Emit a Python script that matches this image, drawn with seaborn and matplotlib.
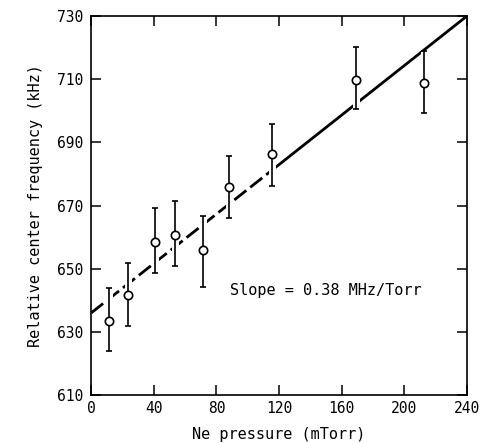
#!/usr/bin/env python3
"""Relative center frequency vs Ne pressure, with linear fit."""

import matplotlib
matplotlib.use("Agg")
import matplotlib.patheffects as pe
import matplotlib.pyplot as plt
import pandas as pd
import seaborn as sns

pressure = [11.3, 23.4, 40.9, 53.7, 71.3, 87.9, 115.8, 169.3, 212.5]
frequency = [633.6, 641.7, 658.5, 660.7, 655.8, 676.0, 686.4, 709.6, 708.7]
err_up = [10.4, 10.0, 10.7, 10.8, 11.0, 9.6, 9.4, 10.5, 10.1]
err_down = [9.7, 9.9, 10.0, 9.9, 11.6, 9.9, 10.1, 9.1, 9.3]

# fitted line, drawn dashed at low pressure and solid above ~116 mTorr
fit_x = [0, 116, 116, 240]
fit_y = [636.0, 681.4, 681.4, 730.0]
fit_seg = ["dashed", "dashed", "solid", "solid"]

x_ticks = [0, 40, 80, 120, 160, 200, 240]
y_ticks = [610, 630, 650, 670, 690, 710, 730]


def main() -> None:
    sns.set_style("ticks")
    plt.rcParams["font.family"] = ["DejaVu Sans Mono", "DejaVu Sans"]
    plt.rcParams["text.color"] = "black"
    plt.rcParams["axes.labelcolor"] = "black"

    df = pd.DataFrame({"p": pressure, "f": frequency})
    fit = pd.DataFrame({"p": fit_x, "f": fit_y, "seg": fit_seg})

    fig = plt.figure(figsize=(4.82, 4.43), dpi=100)
    ax = fig.add_axes([0.189, 0.108, 0.780, 0.856])

    sns.lineplot(data=fit, x="p", y="f", style="seg", color="black", lw=2.0,
                 dashes={"dashed": (5.5, 1.8), "solid": ""}, sort=False,
                 legend=False, ax=ax, zorder=2)
    eb = ax.errorbar(pressure, frequency, yerr=[err_down, err_up], fmt="none",
                     ecolor="black", elinewidth=1.2, capsize=2.5,
                     capthick=1.2, zorder=3)
    # white halo so the fit line breaks where it crosses a bar
    eb[2][0].set_path_effects([pe.Stroke(linewidth=5, foreground="white"),
                               pe.Normal()])
    sns.scatterplot(data=df, x="p", y="f", marker="o", s=36,
                    facecolor="white", edgecolor="black", linewidth=1.2,
                    ax=ax, zorder=4)

    ax.set_xlim(0, 240)
    ax.set_ylim(610, 730)
    ax.set_xticks(x_ticks)
    ax.set_yticks(y_ticks)
    ax.tick_params(direction="in", length=7.5, width=1.1, top=True,
                   right=True, labelsize=10.5, colors="black")
    ax.tick_params(axis="y", pad=6)
    ax.tick_params(axis="x", pad=4)
    for sp in ax.spines.values():
        sp.set_linewidth(1.2)
        sp.set_color("black")

    ax.set_xlabel("Ne pressure (mTorr)", fontsize=11, labelpad=8)
    ax.set_ylabel("Relative center frequency (kHz)", fontsize=11, labelpad=10)
    ax.text(88.8, 643, "Slope = 0.38 MHz/Torr", fontsize=11,
            va="center", ha="left")

    fig.savefig("out.png", dpi=100)


if __name__ == "__main__":
    main()
